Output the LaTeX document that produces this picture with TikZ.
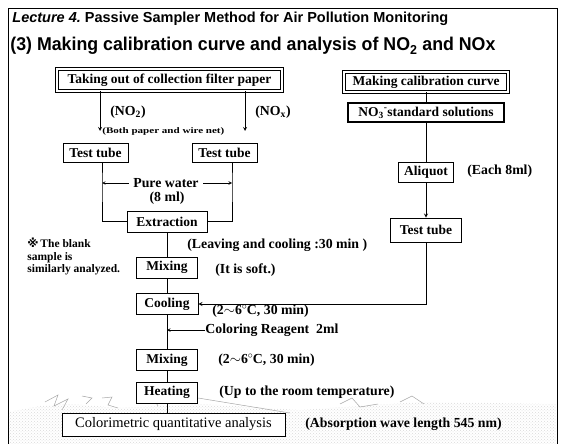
\documentclass[tikz,border=0pt]{standalone}
\usepackage{fontspec}
\setmainfont{Liberation Serif}
\setsansfont{Liberation Sans}
\newfontfamily\symfont{DejaVu Sans}
\usetikzlibrary{patterns}

\tikzset{
  box/.style={draw, fill=white, line width=0.8pt, inner sep=0pt,
    minimum height=21pt, font=\fontsize{13.5}{15}\selectfont\bfseries},
  dbox/.style={box, double, double distance=1.3pt, line width=0.9pt},
  note/.style={inner sep=0pt, anchor=west,
    font=\fontsize{13.8}{15}\selectfont\bfseries},
  scan/.style={gray!70, line width=0.5pt},
}
\newcommand{\degc}{$^{\circ}$\kern-0.5pt C}

\begin{document}
\begin{tikzpicture}[x=1pt, y=-1pt, >=stealth, line width=0.8pt]
  \useasboundingbox (0,0) rectangle (563,444);
  % speckled strip at the foot of the sheet
  \fill[pattern=crosshatch dots, pattern color=gray!30]
    (9,444) -- (9,412) -- (40,406) -- (70,404) -- (120,408) -- (200,404)
    -- (300,410) -- (420,402) -- (556,404) -- (556,444) -- cycle;
  \draw[scan] (45,402) -- (58,395) -- (54,406) -- (68,399) -- (62,410);
  \draw[scan] (82,396) -- (92,398) -- (86,404);
  \draw[scan] (102,398) -- (112,397) -- (108,405) -- (118,408);
  \draw[scan] (140,400) -- (150,392) -- (158,406);
  \draw[scan] (198,398) -- (290,413);
  \draw[scan] (340,404) -- (352,398) -- (360,407) -- (378,404);
  \draw[scan] (400,402) -- (412,396) -- (424,404);
  % frame
  \draw (8,444) -- (8,8) -- (557,8) -- (557,444);
  % headings
  \node[anchor=base west, inner sep=0pt, font=\sffamily\bfseries] (lect) at (12,23)
    {\fontsize{14.5}{16}\selectfont\textit{Lecture 4.}\ Passive Sampler Method for Air Pollution Monitoring};
  \node[anchor=base west, inner sep=0pt, font=\sffamily\bfseries] (head) at (10,51)
    {\scalebox{0.96}[1]{\fontsize{18.5}{20}\selectfont (3) Making calibration curve and analysis of NO\textsubscript{2} and NOx}};
  % sample side
  \node[dbox, minimum width=225pt, minimum height=22pt] (filter) at (169.5,80) {Taking out of collection filter paper};
  \node[box, minimum width=65pt, minimum height=19pt] (tubeA) at (95.5,152.5) {Test tube};
  \node[box, minimum width=65pt, minimum height=19pt] (tubeB) at (224.5,152.5) {Test tube};
  \node[box, minimum width=80pt] (extr) at (167,221.5) {Extraction};
  \node[box, minimum width=61pt] (mixA) at (167,267.5) {Mixing};
  \node[box, minimum width=62pt] (cool) at (167,304) {Cooling};
  \node[box, minimum width=61pt] (mixB) at (167,360) {Mixing};
  \node[box, minimum width=61pt] (heat) at (167,392.5) {Heating};
  \node[box, minimum width=223pt, minimum height=23pt, font=\fontsize{14.5}{16}\selectfont] (color) at (173.5,424.5) {Colorimetric quantitative analysis};
  % standard side
  \node[dbox, minimum width=164pt, minimum height=20pt] (calib) at (426,82) {Making calibration curve};
  \node[box, line width=1.1pt, minimum width=156pt, minimum height=19pt] (std) at (426,112.5) {NO\textsubscript{3}\textsuperscript{-}standard solutions};
  \node[box, minimum width=55pt, minimum height=20pt] (aliq) at (426,172) {Aliquot};
  \node[box, minimum width=71pt, minimum height=24pt] (tubeC) at (426,230) {Test tube};
  % side notes
  \node[note] (noA) at (110,112) {(NO\textsubscript{2})};
  \node[note] (noB) at (255,112) {(NO\textsubscript{x})};
  \node[note, font=\fontsize{8.5}{9}\selectfont\bfseries] (both) at (102,131) {\scalebox{1.3}[1]{(Both paper and wire net)}};
  \node[note, anchor=center, inner xsep=4pt] (water) at (166,183) {Pure water};
  \node[note, anchor=center] (vol) at (167,198) {(8 ml)};
  \node[note] (leave) at (187,245) {(Leaving and cooling :30 min )};
  \node[note] (soft) at (215,270) {(It is soft.)};
  \node[note] (tempA) at (212,311) {(2$\sim$6\degc, 30 min)};
  \node[note] (reag) at (205,330) {Coloring Reagent\ \ 2ml};
  \node[note] (tempB) at (218,360) {(2$\sim$6\degc, 30 min)};
  \node[note] (room) at (219,392) {(Up to the room temperature)};
  \node[note] (absorb) at (305,424) {(Absorption wave length 545 nm)};
  \node[note] (each) at (467,171) {(Each 8ml)};
  \node[note, anchor=north west, align=left, font=\fontsize{11.5}{12.5}\selectfont\bfseries] (blank) at (27,238)
    {{\symfont ※}\,The blank\\sample is\\similarly analyzed.};
  % arrows and lines
  \coordinate (tipA) at (100,131);
  \coordinate (tipB) at (245,131);
  \coordinate (wA) at (102,183);
  \coordinate (wB) at (232,183);
  \draw[->] (filter.south -| tipA) -- (tipA);
  \draw[->] (filter.south -| tipB) -- (tipB);
  \draw[->, line width=0.6pt] (water) -- (wA);
  \draw[->, line width=0.6pt] (water) -- (wB);
  \draw (tubeA.south -| wA) -- (wA) |- (extr.west);
  \draw (tubeB.south -| wB) -- (wB) |- (extr.east);
  \draw (extr) -- (mixA) -- (cool) -- (mixB) -- (heat);
  \draw (heat) -- (heat |- color.north);
  \draw[->, line width=0.6pt] (reag.west) -- (reag.west -| cool.south);
  \draw (calib) -- (std) -- (aliq);
  \draw[->] (aliq) -- (tubeC);
  \draw[->] (tubeC.south) |- (cool.east);
\end{tikzpicture}
\end{document}
